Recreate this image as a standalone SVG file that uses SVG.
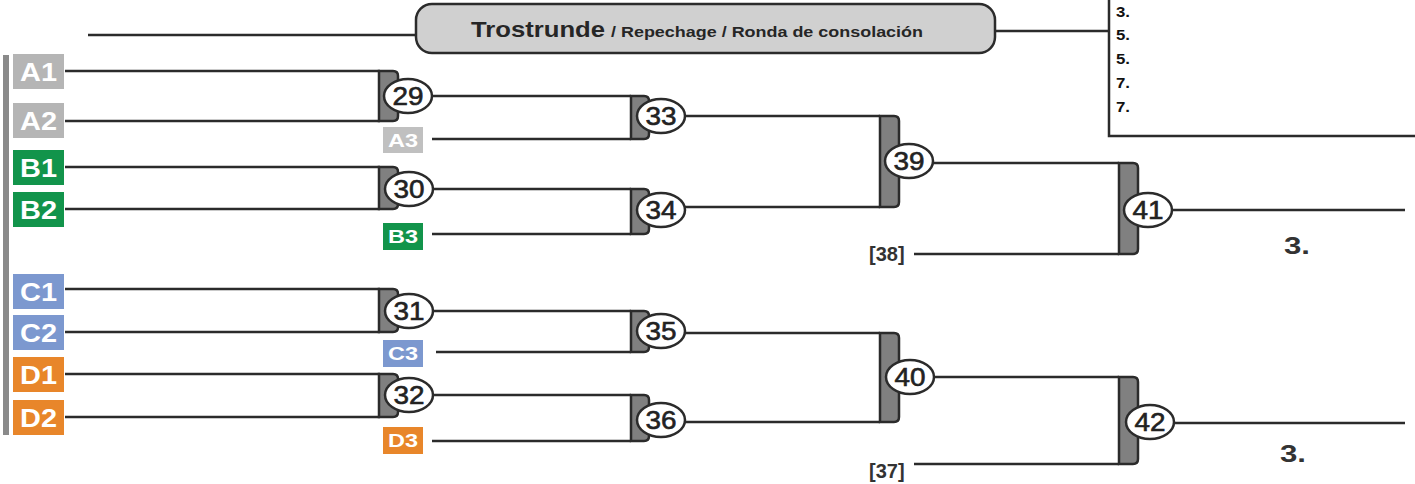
<svg xmlns="http://www.w3.org/2000/svg" width="1415" height="484" viewBox="0 0 1415 484">
<style>
.ln{stroke:#2b2b2b;stroke-width:2.5;fill:none}
.br{fill:#808080;stroke:#2b2b2b;stroke-width:2.5}
.ov{fill:#fff;stroke:#2b2b2b;stroke-width:2.5}
.num{font-family:"Liberation Sans",Arial,sans-serif;font-size:26px;fill:#222;text-anchor:middle;stroke:#222;stroke-width:0.6}
.seed{font-family:"Liberation Sans",Arial,sans-serif;font-size:25px;font-weight:bold;fill:#fff;text-anchor:middle}
.seed3{font-family:"Liberation Sans",Arial,sans-serif;font-size:18px;font-weight:bold;fill:#fff;text-anchor:middle}
.rk{font-family:"Liberation Sans",Arial,sans-serif;font-size:14px;font-weight:bold;fill:#111}
.pl{font-family:"Liberation Sans",Arial,sans-serif;font-size:24px;font-weight:bold;fill:#333}
.ref{font-family:"Liberation Sans",Arial,sans-serif;font-size:20px;font-weight:bold;fill:#333}
.a{fill:#b5b5b5}.b{fill:#12944b}.c{fill:#7c98cf}.d{fill:#e8862a}
</style>
<rect x="0" y="0" width="1415" height="484" fill="#fff"/>

<g id="title">
<rect x="416" y="4" width="579" height="49" rx="16" fill="#d0d0d0" stroke="#2b2b2b" stroke-width="2.5"/>
<text x="471" y="37" font-family="Liberation Sans,Arial,sans-serif" font-weight="bold" fill="#262626"><tspan font-size="22" textLength="134" lengthAdjust="spacingAndGlyphs">Trostrunde</tspan><tspan x="611" font-size="14" textLength="312" lengthAdjust="spacingAndGlyphs">/ Repechage / Ronda de consolación</tspan></text>
</g>

<g id="ranking">
<path class="ln" d="M1109,0 V136 H1415"/>
<text class="rk" x="1116" y="17" textLength="14" lengthAdjust="spacingAndGlyphs">3.</text>
<text class="rk" x="1116" y="40" textLength="14" lengthAdjust="spacingAndGlyphs">5.</text>
<text class="rk" x="1116" y="64" textLength="14" lengthAdjust="spacingAndGlyphs">5.</text>
<text class="rk" x="1116" y="88" textLength="14" lengthAdjust="spacingAndGlyphs">7.</text>
<text class="rk" x="1116" y="112" textLength="14" lengthAdjust="spacingAndGlyphs">7.</text>
</g>

<g id="sidebar"><rect x="3" y="55" width="6" height="380" fill="#8a8a8a"/></g>

<g id="connectors">
<line class="ln" x1="88" y1="35" x2="416" y2="35"/>
<line class="ln" x1="995" y1="31" x2="1109" y2="31"/>
<line class="ln" x1="65" y1="71" x2="380" y2="71"/>
<line class="ln" x1="65" y1="121" x2="380" y2="121"/>
<line class="ln" x1="65" y1="167" x2="380" y2="167"/>
<line class="ln" x1="65" y1="209" x2="380" y2="209"/>
<line class="ln" x1="65" y1="289" x2="380" y2="289"/>
<line class="ln" x1="65" y1="332" x2="380" y2="332"/>
<line class="ln" x1="65" y1="374" x2="380" y2="374"/>
<line class="ln" x1="65" y1="417" x2="380" y2="417"/>
<line class="ln" x1="431" y1="96" x2="631" y2="96"/>
<line class="ln" x1="432" y1="139" x2="631" y2="139"/>
<line class="ln" x1="432" y1="189" x2="631" y2="189"/>
<line class="ln" x1="432" y1="234" x2="631" y2="234"/>
<line class="ln" x1="432" y1="311" x2="631" y2="311"/>
<line class="ln" x1="436" y1="352" x2="631" y2="352"/>
<line class="ln" x1="432" y1="395" x2="631" y2="395"/>
<line class="ln" x1="432" y1="441" x2="631" y2="441"/>
<line class="ln" x1="684" y1="116" x2="880" y2="116"/>
<line class="ln" x1="684" y1="207" x2="880" y2="207"/>
<line class="ln" x1="684" y1="333" x2="880" y2="333"/>
<line class="ln" x1="684" y1="422" x2="880" y2="422"/>
<line class="ln" x1="933" y1="163" x2="1119" y2="163"/>
<line class="ln" x1="914" y1="254" x2="1119" y2="254"/>
<line class="ln" x1="934" y1="377" x2="1119" y2="377"/>
<line class="ln" x1="914" y1="464" x2="1119" y2="464"/>
<line class="ln" x1="1172" y1="210" x2="1405" y2="210"/>
<line class="ln" x1="1174" y1="423" x2="1405" y2="423"/>
</g>

<g id="seed-A1"><rect class="a" x="13" y="54" width="51" height="35"/><text class="seed" x="38.5" y="81" textLength="37" lengthAdjust="spacingAndGlyphs">A1</text></g>
<g id="seed-A2"><rect class="a" x="13" y="103" width="51" height="35"/><text class="seed" x="38.5" y="130" textLength="37" lengthAdjust="spacingAndGlyphs">A2</text></g>
<g id="seed-B1"><rect class="b" x="13" y="150" width="51" height="35"/><text class="seed" x="38.5" y="177" textLength="37" lengthAdjust="spacingAndGlyphs">B1</text></g>
<g id="seed-B2"><rect class="b" x="13" y="192" width="51" height="35"/><text class="seed" x="38.5" y="219" textLength="37" lengthAdjust="spacingAndGlyphs">B2</text></g>
<g id="seed-C1"><rect class="c" x="13" y="274" width="51" height="35"/><text class="seed" x="38.5" y="301" textLength="37" lengthAdjust="spacingAndGlyphs">C1</text></g>
<g id="seed-C2"><rect class="c" x="13" y="315" width="51" height="35"/><text class="seed" x="38.5" y="342" textLength="37" lengthAdjust="spacingAndGlyphs">C2</text></g>
<g id="seed-D1"><rect class="d" x="13" y="357" width="51" height="35"/><text class="seed" x="38.5" y="384" textLength="37" lengthAdjust="spacingAndGlyphs">D1</text></g>
<g id="seed-D2"><rect class="d" x="13" y="400" width="51" height="35"/><text class="seed" x="38.5" y="427" textLength="37" lengthAdjust="spacingAndGlyphs">D2</text></g>

<g id="seed-A3"><rect x="383" y="127" width="40" height="26" fill="#c0c0c0"/><text class="seed3" x="403" y="147" textLength="30" lengthAdjust="spacingAndGlyphs">A3</text></g>
<g id="seed-B3"><rect class="b" x="383" y="223" width="40" height="27"/><text class="seed3" x="403" y="243" textLength="30" lengthAdjust="spacingAndGlyphs">B3</text></g>
<g id="seed-C3"><rect class="c" x="383" y="340" width="40" height="27"/><text class="seed3" x="403" y="360" textLength="30" lengthAdjust="spacingAndGlyphs">C3</text></g>
<g id="seed-D3"><rect class="d" x="383" y="427" width="40" height="27"/><text class="seed3" x="403" y="447" textLength="30" lengthAdjust="spacingAndGlyphs">D3</text></g>

<g id="m29"><path class="br" d="M379,71 H393 Q398,71 398,76 V116 Q398,121 393,121 H379 Z"/><ellipse class="ov" cx="408" cy="96" rx="24" ry="17"/><text class="num" x="408" y="105" textLength="31" lengthAdjust="spacingAndGlyphs">29</text></g>
<g id="m30"><path class="br" d="M379,167 H393 Q398,167 398,172 V204 Q398,209 393,209 H379 Z"/><ellipse class="ov" cx="409" cy="189" rx="24" ry="17"/><text class="num" x="409" y="198" textLength="31" lengthAdjust="spacingAndGlyphs">30</text></g>
<g id="m31"><path class="br" d="M379,289 H393 Q398,289 398,294 V327 Q398,332 393,332 H379 Z"/><ellipse class="ov" cx="409" cy="311" rx="24" ry="17"/><text class="num" x="409" y="320" textLength="31" lengthAdjust="spacingAndGlyphs">31</text></g>
<g id="m32"><path class="br" d="M379,374 H393 Q398,374 398,379 V412 Q398,417 393,417 H379 Z"/><ellipse class="ov" cx="409" cy="395" rx="24" ry="17"/><text class="num" x="409" y="404" textLength="31" lengthAdjust="spacingAndGlyphs">32</text></g>

<g id="m33"><path class="br" d="M631,96 H644 Q649,96 649,101 V134 Q649,139 644,139 H631 Z"/><ellipse class="ov" cx="661" cy="116" rx="24" ry="17"/><text class="num" x="661" y="125" textLength="31" lengthAdjust="spacingAndGlyphs">33</text></g>
<g id="m34"><path class="br" d="M631,189 H644 Q649,189 649,194 V229 Q649,234 644,234 H631 Z"/><ellipse class="ov" cx="661" cy="210" rx="24" ry="17"/><text class="num" x="661" y="219" textLength="31" lengthAdjust="spacingAndGlyphs">34</text></g>
<g id="m35"><path class="br" d="M631,311 H644 Q649,311 649,316 V347 Q649,352 644,352 H631 Z"/><ellipse class="ov" cx="661" cy="331" rx="24" ry="17"/><text class="num" x="661" y="340" textLength="31" lengthAdjust="spacingAndGlyphs">35</text></g>
<g id="m36"><path class="br" d="M631,395 H644 Q649,395 649,400 V436 Q649,441 644,441 H631 Z"/><ellipse class="ov" cx="661" cy="420" rx="24" ry="17"/><text class="num" x="661" y="429" textLength="31" lengthAdjust="spacingAndGlyphs">36</text></g>

<g id="m39"><path class="br" d="M880,116 H894 Q899,116 899,121 V202 Q899,207 894,207 H880 Z"/><ellipse class="ov" cx="909" cy="161" rx="24" ry="17"/><text class="num" x="909" y="170" textLength="31" lengthAdjust="spacingAndGlyphs">39</text></g>
<g id="m40"><path class="br" d="M880,333 H894 Q899,333 899,338 V417 Q899,422 894,422 H880 Z"/><ellipse class="ov" cx="910" cy="377" rx="24" ry="17"/><text class="num" x="910" y="386" textLength="31" lengthAdjust="spacingAndGlyphs">40</text></g>

<g id="ref38"><text class="ref" x="869" y="261">[38]</text></g>
<g id="ref37"><text class="ref" x="869" y="478">[37]</text></g>

<g id="m41"><path class="br" d="M1119,163 H1133 Q1138,163 1138,168 V249 Q1138,254 1133,254 H1119 Z"/><ellipse class="ov" cx="1148" cy="210" rx="24" ry="17"/><text class="num" x="1148" y="219" textLength="31" lengthAdjust="spacingAndGlyphs">41</text></g>
<g id="m42"><path class="br" d="M1119,377 H1133 Q1138,377 1138,382 V459 Q1138,464 1133,464 H1119 Z"/><ellipse class="ov" cx="1150" cy="422" rx="24" ry="17"/><text class="num" x="1150" y="431" textLength="31" lengthAdjust="spacingAndGlyphs">42</text></g>

<g id="place41"><text class="pl" x="1284" y="254" textLength="26" lengthAdjust="spacingAndGlyphs">3.</text></g>
<g id="place42"><text class="pl" x="1280" y="462" textLength="26" lengthAdjust="spacingAndGlyphs">3.</text></g>
</svg>
